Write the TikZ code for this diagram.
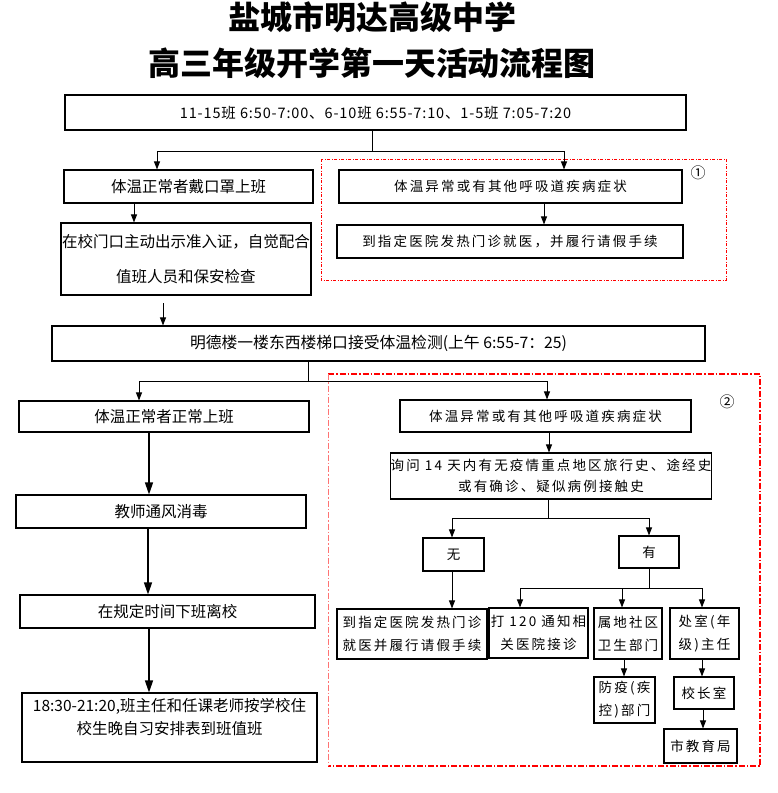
\documentclass[tikz,border=0pt]{standalone}
\usepackage{fontspec}
\setmainfont{Noto Sans CJK SC}
\newfontfamily\spc[LetterSpace=16]{Noto Sans CJK SC}
\newfontfamily\spcl[LetterSpace=6]{Noto Sans CJK SC}
\usetikzlibrary{arrows.meta,calc}
\begin{document}
\begin{tikzpicture}[x=1pt,y=-1pt,
  box/.style={draw,line width=1.1pt,inner sep=0pt,align=center,
    font=\fontsize{15.5}{23}\selectfont},
  sbox/.style={draw,line width=1.1pt,inner sep=0pt,align=center,
    font=\spc\fontsize{13.5}{23}\selectfont},
  conn/.style={line width=0.9pt},
  arr/.style={conn,-{Triangle[length=8pt,width=6pt]}},
  bigarr/.style={line width=1.3pt,-{Triangle[length=12pt,width=8pt]}},
  zone1/.style={red,line width=0.7pt,dash pattern=on 3pt off 1.5pt on 1pt off 1.5pt},
  zone2/.style={red,line width=1.2pt,dash pattern=on 6pt off 2pt on 1.5pt off 2pt},
  zone2l/.style={red!55,line width=0.7pt,dash pattern=on 6pt off 2pt on 1.5pt off 2pt},
  ttl/.style={font=\bfseries\fontsize{32}{32}\selectfont,inner sep=0pt},
  circ/.style={font=\fontsize{15}{15}\selectfont,inner sep=0pt}]
\useasboundingbox (0,0) rectangle (777,793);

% titles
\node[ttl] (t1) at (372,17) {盐城市明达高级中学};
\node[ttl] (t2) at (372,63) {高三年级开学第一天活动流程图};

% zones
\draw[zone1] (321,159) rectangle (726,280);
\draw[zone2] (328,374) -- (760,374) -- (760,766) -- (328,766);
\draw[zone2l] (328,374) -- (328,766);
\node[circ] (c1) at (698,173) {①};
\node[circ] (c2) at (727,402) {②};

% nodes
\node[box,minimum width=621pt,minimum height=35pt,font=\spcl\fontsize{14.5}{16}\selectfont] (top) at (375.5,112.5)
  {11-15班 6:50-7:00、6-10班 6:55-7:10、1-5班 7:05-7:20};
\node[box,minimum width=249pt,minimum height=33pt] (B1) at (188.5,186.5) {体温正常者戴口罩上班};
\node[box,minimum width=250pt,minimum height=72pt,font=\fontsize{15.5}{35}\selectfont] (B2) at (186,259)
  {在校门口主动出示准入证，自觉配合\\值班人员和保安检查};
\node[sbox,minimum width=343pt,minimum height=33pt] (R1) at (510.5,186.5) {体温异常或有其他呼吸道疾病症状};
\node[sbox,minimum width=346pt,minimum height=33pt] (R2) at (510,241.5) {到指定医院发热门诊就医，并履行请假手续};
\node[box,minimum width=653pt,minimum height=35pt,font=\fontsize{15.8}{23}\selectfont] (C) at (378.5,343.5)
  {明德楼一楼东西楼梯口接受体温检测(上午 6:55-7：25)};
\node[box,minimum width=290pt,minimum height=31pt] (D1) at (164,416.5) {体温正常者正常上班};
\node[sbox,minimum width=291pt,minimum height=32pt] (D2) at (545.5,416) {体温异常或有其他呼吸道疾病症状};
\node[sbox,minimum width=318pt,minimum height=46pt,font=\spc\fontsize{13.5}{21}\selectfont] (E) at (551,476)
  {询问 14 天内有无疫情重点地区旅行史、途经史\\或有确诊、疑似病例接触史};
\node[sbox,minimum width=61pt,minimum height=33pt] (wu) at (453.5,554.5) {无};
\node[sbox,minimum width=60pt,minimum height=32pt] (you) at (649,552) {有};
\node[sbox,minimum width=150pt,minimum height=50pt] (F1) at (412,634) {到指定医院发热门诊\\就医并履行请假手续};
\node[sbox,minimum width=99pt,minimum height=50pt] (F2) at (538.5,633) {打 120 通知相\\关医院接诊};
\node[sbox,minimum width=68pt,minimum height=51pt] (F3) at (628,633.5) {属地社区\\卫生部门};
\node[sbox,minimum width=69pt,minimum height=51pt] (F4) at (704.5,633.5) {处室(年\\级)主任};
\node[sbox,minimum width=61pt,minimum height=46pt] (G3) at (624.5,700) {防疫(疾\\控)部门};
\node[sbox,minimum width=60pt,minimum height=32pt] (G4) at (704,693) {校长室};
\node[sbox,minimum width=73pt,minimum height=34pt] (H4) at (700.5,746) {市教育局};
\node[box,minimum width=290pt,minimum height=33pt] (I) at (161,511.5) {教师通风消毒};
\node[box,minimum width=295pt,minimum height=33pt] (J) at (167.5,611.5) {在规定时间下班离校};
\node[box,minimum width=295pt,minimum height=69pt] (K) at (169.5,727.5)
  {18:30-21:20,班主任和任课老师按学校住\\校生晚自习安排表到班值班\\\mbox{}};

% helper coordinates
\coordinate (j1) at (372,151);
\coordinate (xa) at (157,0);
\coordinate (xb) at (564,0);
\coordinate (xc) at (134,0);
\coordinate (xd) at (544,0);
\coordinate (s1) at (163,303);
\coordinate (j2) at (308,381);
\coordinate (xe) at (139,0);
\coordinate (xf) at (547,0);
\coordinate (xg) at (549,0);
\coordinate (j3) at (548,518);
\coordinate (xh) at (452,0);
\coordinate (xi) at (649,0);
\coordinate (j4) at (649,588);
\coordinate (xj) at (520,0);
\coordinate (xk) at (622,0);
\coordinate (xl) at (702,0);
\coordinate (xm) at (624,0);
\coordinate (xn) at (703,0);
\coordinate (xo) at (149,0);
\coordinate (xp) at (148,0);

% connectors
\draw[conn] (top.south -| j1) -- (j1);
\draw[arr] (j1) -| (B1.north -| xa);
\draw[arr] (j1) -| (R1.north -| xb);
\draw[arr] (B1.south -| xc) -- (B2.north -| xc);
\draw[arr] (R1.south -| xd) -- (R2.north -| xd);
\draw[arr] (s1) -- (C.north -| s1);
\draw[conn] (C.south -| j2) -- (j2);
\draw[arr] (j2) -| (D1.north -| xe);
\draw[arr] (j2) -| (D2.north -| xf);
\draw[arr] (D2.south -| xg) -- (E.north -| xg);
\draw[conn] (E.south -| j3) -- (j3);
\draw[arr] (j3) -| (wu.north -| xh);
\draw[arr] (j3) -| (you.north -| xi);
\draw[arr] (wu.south -| xh) -- (F1.north -| xh);
\draw[conn] (you.south -| j4) -- (j4);
\draw[arr] (j4) -| (F2.north -| xj);
\draw[arr] (j4) -| (F3.north -| xk);
\draw[arr] (j4) -| (F4.north -| xl);
\draw[arr] (F3.south -| xm) -- (G3.north -| xm);
\draw[arr] (F4.south -| xl) -- (G4.north -| xl);
\draw[arr] (G4.south -| xn) -- (H4.north -| xn);
\draw[bigarr] (D1.south -| xo) -- (I.north -| xo);
\draw[bigarr] (I.south -| xp) -- (J.north -| xp);
\draw[bigarr] (J.south -| xo) -- (K.north -| xo);
\end{tikzpicture}
\end{document}
